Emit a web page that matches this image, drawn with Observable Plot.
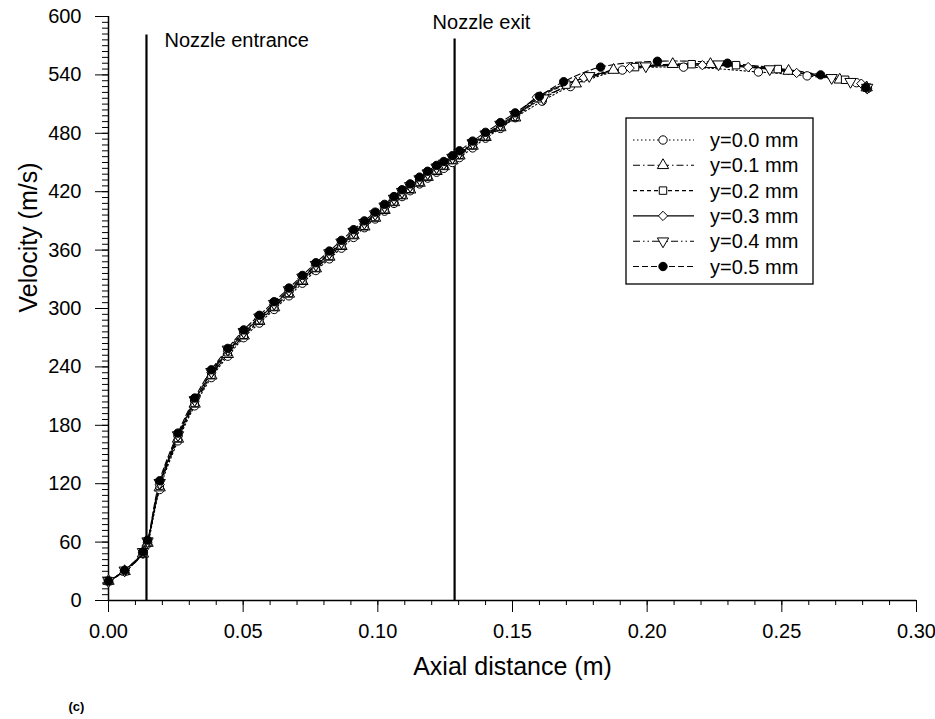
<!DOCTYPE html>
<html><head><meta charset="utf-8">
<script src="https://cdn.jsdelivr.net/npm/d3@7"></script>
<script src="https://cdn.jsdelivr.net/npm/@observablehq/plot@0.6"></script>
<style>
body{margin:0;background:#fff;}
#chart{position:relative;width:935px;height:719px;}
</style></head><body><div id="chart"></div>
<script>
// ---------- data ----------
const seriesNames = ["y=0.0 mm", "y=0.1 mm", "y=0.2 mm", "y=0.3 mm", "y=0.4 mm", "y=0.5 mm"];
const xTicks = [0, 0.05, 0.10, 0.15, 0.20, 0.25, 0.30];
const yTicks = [0, 60, 120, 180, 240, 300, 360, 420, 480, 540, 600];

// shared axial positions in the nozzle region (m)
const xDense = [0, 0.006, 0.0128, 0.0145, 0.019, 0.0258, 0.032, 0.0382, 0.0443, 0.0502,
  0.056, 0.0615, 0.067, 0.072, 0.077, 0.082, 0.0865, 0.091, 0.095, 0.099,
  0.1025, 0.106, 0.109, 0.112, 0.1155, 0.1185, 0.1218, 0.1245, 0.1277, 0.1303,
  0.1352, 0.14, 0.1455, 0.151];
// velocities (m/s) at xDense
const vDense00 = [20,30,48,58,114,164,200,229,251,270, 285,299,313,326,339,351,362,373,383,392, 400,408,415,421,428,434,440,444,450,455, 465,475,485,496];
const vDense01 = [20,30,48,59,116,166,202,231,253,272, 287,301,315,328,341,353,364,375,384,393, 401,409,416,422,429,435,441,446,452,457, 467,476,486,496];
const vDense02 = [20,30,49,60,118,167,203,232,255,273, 288,302,316,329,342,354,365,376,385,394, 402,410,417,423,430,436,442,447,453,458, 468,477,487,497];
const vDense03 = [20,31,49,60,119,169,205,234,256,275, 290,304,318,331,344,356,367,378,387,396, 404,412,419,425,432,438,444,448,454,459, 469,478,488,498];
const vDense04 = [20,31,50,61,121,170,206,235,258,276, 291,305,319,332,345,357,368,379,388,397, 405,413,420,426,433,439,445,449,455,460, 470,479,489,499];
const vDense05 = [20,31,50,62,123,172,208,237,259,278, 293,307,321,334,347,359,370,381,390,399, 407,415,422,428,435,441,447,451,457,462, 472,481,491,501];

// downstream (jet) points, per series
const xTail00 = [0.161, 0.1715, 0.1908, 0.2135, 0.2413, 0.2594, 0.2777, 0.2818];
const vTail00 = [513, 528, 545, 548, 543, 539, 532, 526];
const xTail01 = [0.1605, 0.1735, 0.1875, 0.2095, 0.2235, 0.2525, 0.2715, 0.2815];
const vTail01 = [516, 531, 545, 551, 551, 544, 535, 527];
const xTail02 = [0.1595, 0.17, 0.1955, 0.2165, 0.233, 0.2485, 0.2735, 0.2816];
const vTail02 = [516, 530, 548, 551, 550, 546, 535, 527];
const xTail03 = [0.159, 0.1765, 0.1935, 0.2205, 0.2375, 0.2555, 0.2795, 0.2814];
const vTail03 = [517, 537, 547, 550, 548, 542, 531, 528];
const xTail04 = [0.1615, 0.1785, 0.1995, 0.2265, 0.2455, 0.2685, 0.2755, 0.2817];
const vTail04 = [516, 539, 549, 551, 546, 537, 533, 527];
const xTail05 = [0.16, 0.169, 0.1827, 0.2038, 0.2298, 0.2644, 0.2812];
const vTail05 = [518, 533, 548, 554, 552, 540, 527];

// nozzle markers
const nozzleX = [0.0141, 0.1285];
const nozzleTop = [581, 577];
const nozzleLabels = ["Nozzle entrance", "Nozzle exit"];

// ---------- build ----------
const vDense = [vDense00, vDense01, vDense02, vDense03, vDense04, vDense05];
const xTail = [xTail00, xTail01, xTail02, xTail03, xTail04, xTail05];
const vTail = [vTail00, vTail01, vTail02, vTail03, vTail04, vTail05];

const triangleDown = {
  draw(context, size) {
    const s3 = Math.sqrt(3);
    const y = -Math.sqrt(size / (s3 * 3));
    context.moveTo(0, -y * 2);
    context.lineTo(-s3 * y, y);
    context.lineTo(s3 * y, y);
    context.closePath();
  }
};
const symbols = [d3.symbolCircle, d3.symbolTriangle, d3.symbolSquare, d3.symbolDiamond2, triangleDown, d3.symbolCircle];
const fills = ["white", "white", "white", "white", "white", "black"];
const dashes = ["1.5,2.5", "7,3,1.5,3", "4,3", null, "7,3,1.5,3,1.5,3", "6,3"];
const R = 4.2;

const series = seriesNames.map((name, i) => {
  const rows = xDense.map((x, j) => ({x, v: vDense[i][j]}));
  xTail[i].forEach((x, j) => rows.push({x, v: vTail[i][j]}));
  return rows;
});

const nozzles = nozzleX.map((x, i) => ({x, top: nozzleTop[i], label: nozzleLabels[i]}));

const xMinor = d3.range(0, 0.3001, 0.01);
const yMinor = d3.range(0, 601, 6);

const FONT = "'Liberation Sans', Arial, Helvetica, sans-serif";

const marks = [
  Plot.axisX({ticks: xMinor, tickSize: 5, tickFormat: () => "", label: null}),
  Plot.axisX({ticks: xTicks, tickSize: 12, tickPadding: 11, tickFormat: d3.format(".2f"), fontSize: 20, label: null}),
  Plot.axisY({ticks: yMinor, tickSize: 6, tickFormat: () => "", label: null}),
  Plot.axisY({ticks: yTicks, tickSize: 13, tickPadding: 14, tickFormat: d3.format("d"), fontSize: 20, label: null}),
  Plot.ruleX([0], {stroke: "black", strokeWidth: 1.5}),
  Plot.ruleY([0], {stroke: "black", strokeWidth: 1.5}),
  Plot.ruleX(nozzles, {x: "x", y1: 0, y2: "top", stroke: "black", strokeWidth: 2.2}),
  Plot.text(nozzles.slice(0, 1), {x: "x", y: "top", text: "label", textAnchor: "start", dx: 18, dy: 6, fontSize: 20, fill: "black"}),
  Plot.text(nozzles.slice(1, 2), {x: "x", y: "top", text: "label", textAnchor: "start", dx: -22, dy: -16, fontSize: 20, fill: "black"}),
  Plot.text(["Velocity (m/s)"], {frameAnchor: "left", dx: -80, dy: 4, rotate: -90, fontSize: 25, fill: "black"}),
  Plot.text(["Axial distance (m)"], {frameAnchor: "bottom", dy: 74, fontSize: 25, fill: "black"}),
  Plot.text(["(c)"], {frameAnchor: "bottom-left", dx: -40, dy: 110, textAnchor: "start", fontWeight: "bold", fontSize: 13, fill: "black"})
];

series.forEach((rows, i) => {
  marks.push(Plot.line(rows, {x: "x", y: "v", stroke: "black", strokeWidth: 1.1, strokeDasharray: dashes[i], curve: "catmull-rom"}));
});
series.forEach((rows, i) => {
  marks.push(Plot.dot(rows, {x: "x", y: "v", symbol: symbols[i], r: R, fill: fills[i], stroke: "black", strokeWidth: 1}));
});

const plot = Plot.plot({
  width: 935,
  height: 719,
  marginLeft: 108,
  marginRight: 19,
  marginTop: 16,
  marginBottom: 119,
  style: {fontFamily: FONT, fontSize: "20px", color: "black", background: "white", overflow: "visible"},
  x: {domain: [0, 0.3], label: null},
  y: {domain: [0, 600], label: null},
  marks
});

document.getElementById("chart").appendChild(plot);

// ---------- legend ----------
const svg = d3.select(plot);
const lg = svg.append("g").attr("font-family", FONT).attr("font-size", 20).attr("text-anchor", "start");
lg.append("rect").attr("x", 626).attr("y", 118).attr("width", 187).attr("height", 166)
  .attr("fill", "white").attr("stroke", "black").attr("stroke-width", 1.3);
seriesNames.forEach((name, i) => {
  const y = 140 + i * 25.3;
  const l = lg.append("line").attr("x1", 633).attr("x2", 694).attr("y1", y).attr("y2", y)
    .attr("stroke", "black").attr("stroke-width", 1.1);
  if (dashes[i]) l.attr("stroke-dasharray", dashes[i]);
  lg.append("path").attr("d", d3.symbol(symbols[i], R * R * Math.PI)())
    .attr("transform", `translate(663,${y})`).attr("fill", fills[i]).attr("stroke", "black");
  lg.append("text").attr("x", 710).attr("y", y).attr("dy", "0.35em")
    .attr("text-anchor", "start").attr("fill", "black").text(name);
});
</script>
</body></html>
